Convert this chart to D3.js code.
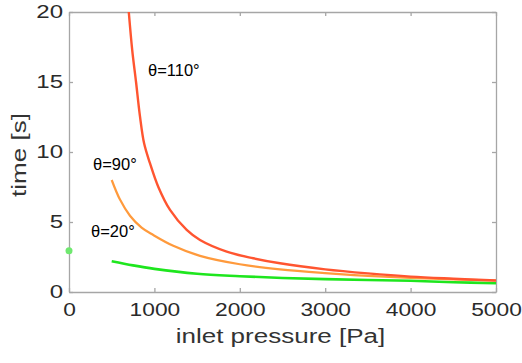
<!DOCTYPE html>
<html>
<head>
<meta charset="utf-8">
<script src="https://cdn.jsdelivr.net/npm/d3@7"></script>
<style>
  body { margin: 0; background: #fff; }
  text { font-family: "Liberation Sans", Arial, sans-serif; }
</style>
</head>
<body>
<div id="chart"></div>
<script>
// pressure [Pa] / time [s]
const theta110 = [[700, 20], [740, 17.3], [785, 15], [830, 12.6], [880, 10.6], [948, 9.2],
  [1046, 7.5], [1183, 5.86], [1378, 4.43], [1534, 3.71], [1847, 2.88], [2158, 2.41],
  [2471, 2.05], [3000, 1.62], [3500, 1.33], [4000, 1.1], [4500, 0.95], [5000, 0.82]];
const theta90 = [[500, 8.0], [597, 6.6], [714, 5.45], [850, 4.6], [987, 4.07], [1221, 3.3],
  [1534, 2.58], [2000, 1.98], [2470, 1.62], [3000, 1.35], [3500, 1.15], [4000, 1.0],
  [4500, 0.9], [5000, 0.82]];
const theta20 = [[500, 2.2], [750, 1.9], [1000, 1.65], [1500, 1.3], [2000, 1.13], [2500, 1.0],
  [3000, 0.92], [3500, 0.86], [4000, 0.8], [4500, 0.7], [5000, 0.63]];
const startPoint = [[0, 2.95]];
const xTicks = [0, 1000, 2000, 3000, 4000, 5000];
const yTicks = [0, 5, 10, 15, 20];
const labels = ["θ=110°", "θ=90°", "θ=20°"];
const labelAt = [[925, 15.4], [281, 8.7], [258, 3.95]];

const width = 522, height = 363;
const margin = {top: 12, right: 26, bottom: 71, left: 69};
const stretch = 1.3; // picture is stretched along the text

const x = d3.scaleLinear().domain([0, 5000]).range([margin.left, width - margin.right]);
const y = d3.scaleLinear().domain([0, 20]).range([height - margin.bottom, margin.top]);

const svg = d3.select("#chart").append("svg")
    .attr("width", width)
    .attr("height", height);

function widen(sel) {
  sel.each(function () {
    const w = this.getComputedTextLength();
    d3.select(this).attr("textLength", w * stretch).attr("lengthAdjust", "spacingAndGlyphs");
  });
}

// box with inward ticks
const axisColor = "#a6a6a6";
svg.append("g")
    .attr("transform", `translate(0,${y(0)})`)
    .call(d3.axisBottom(x).tickValues(xTicks).tickFormat(d3.format("d"))
      .tickSize(-4).tickPadding(12).tickSizeOuter(0))
    .call(g => g.selectAll("text").attr("font-size", 17.5).attr("fill", "#2a2a2a").call(widen));
svg.append("g")
    .attr("transform", `translate(${x(0)},0)`)
    .call(d3.axisLeft(y).tickValues(yTicks).tickSize(-4).tickPadding(6).tickSizeOuter(0))
    .call(g => g.selectAll("text").attr("font-size", 18.5).attr("fill", "#2a2a2a")
      .attr("text-anchor", "end").call(widen));
svg.append("g")
    .attr("transform", `translate(0,${y(20)})`)
    .call(d3.axisTop(x).tickValues(xTicks).tickSize(-4).tickFormat("").tickSizeOuter(0));
svg.append("g")
    .attr("transform", `translate(${x(5000)},0)`)
    .call(d3.axisRight(y).tickValues(yTicks).tickSize(-4).tickFormat("").tickSizeOuter(0));
svg.selectAll(".domain, .tick line").attr("stroke", axisColor).attr("stroke-width", 1.3);

// curves
const line = d3.line().x(d => x(d[0])).y(d => y(d[1])).curve(d3.curveCatmullRom.alpha(0.5));
const series = [
  {data: theta20, color: "#1ee61e", w: 2.6},
  {data: theta90, color: "#ff9a3c", w: 2.2},
  {data: theta110, color: "#ff5530", w: 2.4}
];
svg.append("g")
    .attr("fill", "none")
    .selectAll("path")
    .data(series)
    .join("path")
    .attr("stroke", d => d.color)
    .attr("stroke-width", d => d.w)
    .attr("stroke-linejoin", "round")
    .attr("d", d => line(d.data));

svg.append("g")
    .selectAll("circle")
    .data(startPoint)
    .join("circle")
    .attr("cx", d => x(d[0]))
    .attr("cy", d => y(d[1]))
    .attr("r", 3.5)
    .attr("fill", "#6fe86f");

// angle labels
svg.append("g")
    .selectAll("text")
    .data(labels)
    .join("text")
    .attr("x", (d, i) => x(labelAt[i][0]))
    .attr("y", (d, i) => y(labelAt[i][1]))
    .attr("font-family", "Lato, 'Open Sans', sans-serif")
    .attr("font-size", 16.5)
    .attr("fill", "#000")
    .text(d => d);

// axis titles
svg.append("text")
    .attr("x", (x(0) + x(5000)) / 2 - 2)
    .attr("y", 343)
    .attr("text-anchor", "middle")
    .attr("font-size", 20)
    .attr("fill", "#333")
    .text("inlet pressure [Pa]")
    .call(widen);

svg.append("text")
    .attr("transform", "translate(26,155) rotate(-90)")
    .attr("text-anchor", "middle")
    .attr("font-size", 20)
    .attr("fill", "#333")
    .text("time [s]")
    .call(widen);
</script>
</body>
</html>
